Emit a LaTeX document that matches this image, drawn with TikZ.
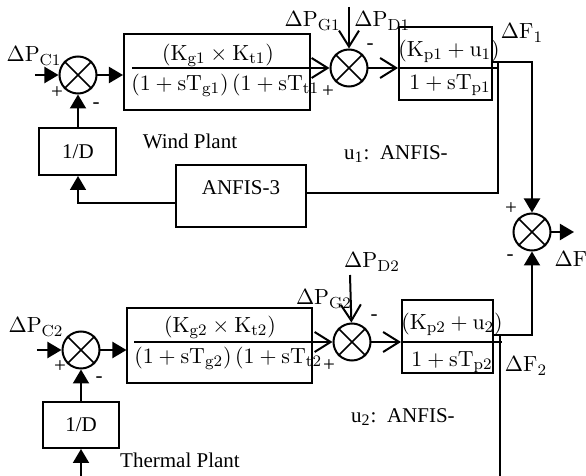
\documentclass[tikz,border=0pt]{standalone}
\usepackage[no-math]{fontspec}
\setmainfont{Liberation Serif}
\DeclareMathSizes{10.5}{10.5}{8}{6}
\usetikzlibrary{arrows.meta,positioning}
\tikzset{
  block/.style={draw, line width=1pt, inner sep=0pt},
  sumnode/.style={draw, circle, line width=1pt, minimum size=18.5pt, inner sep=0pt},
  sig/.style={line width=1pt, -{Triangle[length=7pt,width=8pt]}},
  barb/.style={line width=1pt, -{Straight Barb[length=8pt,width=10pt]}},
  wire/.style={line width=0.8pt},
  sgn/.style={inner sep=0pt},
}

\begin{document}
\begin{tikzpicture}[x=0.5pt, y=-0.5pt,
    every node/.append style={font=\fontsize{10.5}{12}\selectfont}]
    \useasboundingbox (0,0) rectangle (586,476);
    % tie-line sum
    \node[sumnode] (sumf) at (532,232) {};
    \coordinate (fout) at (574,232);
    \draw[sig] (sumf) -- (fout);
    \node (lf) at (571,259) {$\Delta\mathrm{F}$};
    \node[sgn] at (511,209) {+};
    \node[sgn] at (510,258) {-};
    % wind area
    \node[sumnode] (sumc1) at (78,75) {};
    \node[block, minimum width=93pt, minimum height=38pt] (tf1) at (217,72) {};
    \node (tf1num) at (218,55) {$\mathrm{(K_{g1}\times K_{t1})}$};
    \node[anchor=west, inner sep=0pt] (tf1den) at (131,85) {$\mathrm{\bigl(1+sT_{g1}\bigr)\,\bigl(1+sT_{t1}}$};
    \node[sumnode] (sumg1) at (349,68) {};
    \node[block, minimum width=46.5pt, minimum height=36.5pt] (ps1) at (445.5,63.5) {};
    \node (ps1num) at (449,51) {$\mathrm{(K_{p1}+u_1)}$};
    \node (ps1den) at (450,85) {$\mathrm{1+sT_{p1}}$};
    \draw[line width=1pt] (400,68) -- (498,68);
    \node[block, minimum width=38.5pt, minimum height=23.5pt] (droop1) at (78,151.5) {1/D};
    \node[block, line width=0.8pt, minimum width=65pt, minimum height=31pt,
          text height=7pt, text depth=8pt] (anfis3) at (241,196) {ANFIS-3};
    \node (wind) at (190,141) {Wind Plant};
    \node (u1lbl) at (396,154) {u\textsubscript{1}:\ \ ANFIS-};
    \node (lpc1) at (34,56) {$\Delta\mathrm{P_{C1}}$};
    \node[anchor=east, inner sep=0pt] (lpg1) at (341,21) {$\Delta\mathrm{P_{G1}}$};
    \node[anchor=west, inner sep=0pt] (lpd1) at (354,21) {$\Delta\mathrm{P_{D1}}$};
    \node (lf1) at (522,33) {$\Delta\mathrm{F_1}$};
    \node[sgn] at (57,93) {+};
    \node[sgn] at (96,106) {-};
    \node[sgn] at (328,92) {+};
    \node[sgn] at (370,47) {-};
    \coordinate (pc1) at (35,75);
    \coordinate (pd1) at (349,7);
    \coordinate (tap1) at (498,62);
    \draw[sig] (pc1) -- (sumc1);
    \draw[sig] (sumc1) -- (tf1.west |- sumc1);
    \draw[barb] ([xshift=4.5pt]tf1.west |- sumg1) -- (sumg1);
    \draw[barb] (pd1) -- (sumg1);
    \draw[barb] (sumg1) -- (ps1.west |- sumg1);
    \draw[sig] (ps1.east |- tap1) -| (sumf);
    \draw[wire] (tap1) |- ([yshift=1.5pt]anfis3.east);
    \draw[sig, line width=0.8pt] ([yshift=-3.5pt]anfis3.west) -| (droop1);
    \draw[sig] (droop1) -- (sumc1);
    % thermal area
    \node[sumnode] (sumc2) at (81,350) {};
    \node[block, minimum width=92.5pt, minimum height=37.5pt] (tf2) at (220,345.5) {};
    \node (tf2num) at (220,327) {$\mathrm{(K_{g2}\times K_{t2})}$};
    \node[anchor=west, inner sep=0pt] (tf2den) at (134,358) {$\mathrm{\bigl(1+sT_{g2}\bigr)\,\bigl(1+sT_{t2}}$};
    \node[sumnode] (sumg2) at (352,342) {};
    \node[block, minimum width=45.5pt, minimum height=36.5pt] (ps2) at (447.5,336.5) {};
    \node (ps2num) at (452,324) {$\mathrm{(K_{p2}+u_2)}$};
    \node (ps2den) at (452,362) {$\mathrm{1+sT_{p2}}$};
    \draw[line width=1pt] (403,342) -- (502,342);
    \node[block, minimum width=38pt, minimum height=23pt] (droop2) at (81,425) {1/D};
    \node (thermal) at (180,460) {Thermal Plant};
    \node (u2lbl) at (403,417) {u\textsubscript{2}:\ \ ANFIS-};
    \node (lpc2) at (36,327) {$\Delta\mathrm{P_{C2}}$};
    \node (lpg2) at (324,299) {$\Delta\mathrm{P_{G2}}$};
    \node (lpd2) at (372,262) {$\Delta\mathrm{P_{D2}}$};
    \node (lf2) at (526,366) {$\Delta\mathrm{F_2}$};
    \node[sgn] at (60,367) {+};
    \node[sgn] at (99,380) {-};
    \node[sgn] at (329,366) {+};
    \node[sgn] at (374,318) {-};
    \coordinate (pc2) at (37,350);
    \coordinate (pd2) at (350,275);
    \coordinate (tap2) at (500,335);
    \coordinate (fb2) at (500,476);
    \coordinate (fb2in) at (81,476);
    \draw[sig] (pc2) -- (sumc2);
    \draw[sig] (sumc2) -- (tf2.west |- sumc2);
    \draw[barb] ([xshift=4pt]tf2.west |- sumg2) -- (sumg2);
    \draw[barb] (pd2) -- (sumg2);
    \draw[barb] (sumg2) -- (ps2.west |- sumg2);
    \draw[sig] (ps2.east |- tap2) -| (sumf);
    \draw[wire] (tap2) -- (fb2);
    \draw[sig] (fb2in) -- (droop2);
    \draw[sig] (droop2) -- (sumc2);
    % crosses in the summing points
    \foreach \s in {sumc1,sumg1,sumf,sumc2,sumg2}
      \draw[line width=0.8pt] (\s.north east) -- (\s.south west)
                              (\s.north west) -- (\s.south east);
\end{tikzpicture}
\end{document}
